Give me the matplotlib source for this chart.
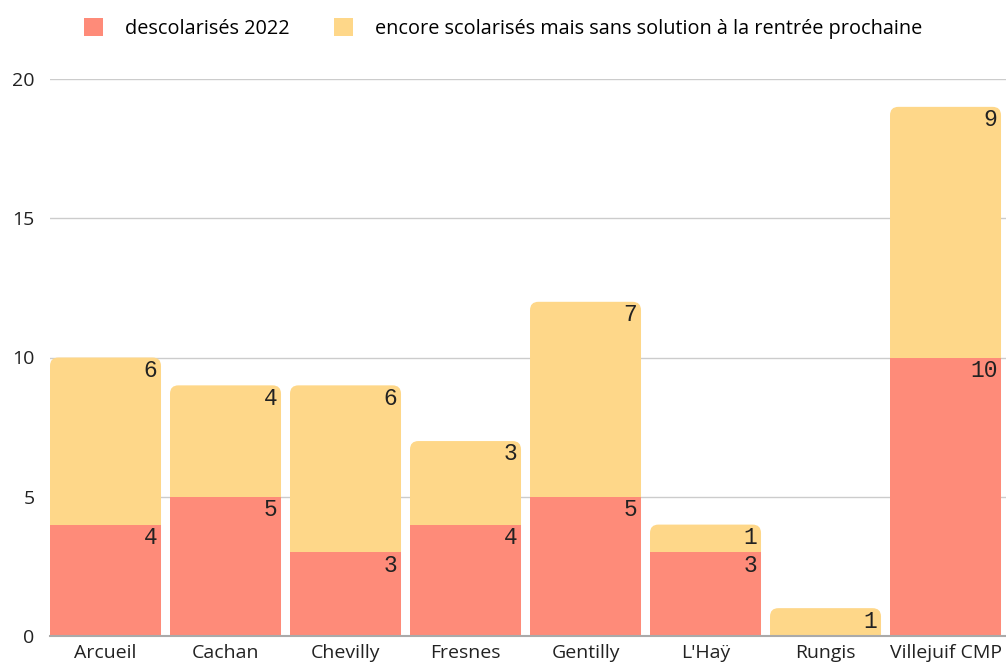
import numpy as np
import matplotlib.pyplot as plt
from matplotlib.patches import FancyBboxPatch, Patch

# data
communes = ["Arcueil", "Cachan", "Chevilly", "Fresnes", "Gentilly", "L'Haÿ", "Rungis", "Villejuif CMP"]
descolarises = [4, 5, 3, 4, 5, 3, 0, 10]
sans_solution = [6, 4, 6, 3, 7, 1, 1, 9]

red = "#FE8B79"
yellow = "#FED789"
font = "Open Sans"
mono = "Liberation Mono"

fig = plt.figure(figsize=(10.06, 6.71), dpi=100)
ax = fig.add_axes([50 / 1006, 35 / 671, 956 / 1006, 557 / 671])

x = np.arange(len(communes))
width = 0.925
totals = np.array(descolarises) + np.array(sans_solution)

# yellow stacks: rounded top, bottom hidden below the axis
ybars = ax.bar(x, totals, width, color=yellow)
for b in ybars:
    b.set_visible(False)
    box = FancyBboxPatch((b.get_x(), -1), b.get_width(), b.get_height() + 1,
                         boxstyle="round,pad=0,rounding_size=0.07", mutation_aspect=4.3,
                         fc=yellow, ec="none", zorder=2)
    ax.add_patch(box)

rbars = ax.bar(x, descolarises, width, color=red, zorder=3)

for i in range(len(communes)):
    right = x[i] + width / 2 - 0.03
    if descolarises[i] > 0:
        ax.annotate(str(descolarises[i]), (right, descolarises[i]), xytext=(0, -1),
                    textcoords="offset points", ha="right", va="top",
                    fontsize=16.5, family=mono, color="#222222", zorder=5)
    ax.annotate(str(sans_solution[i]), (right, totals[i]), xytext=(0, -1),
                textcoords="offset points", ha="right", va="top",
                fontsize=16.5, family=mono, color="#222222", zorder=5)

ax.set_xlim(-0.4625, 7.504)
ax.set_ylim(0, 20)
ax.set_yticks([0, 5, 10, 15, 20])
ax.set_xticks(x)
ax.set_xticklabels(communes, fontsize=14, family=font, color="#222222")
for lbl in ax.get_yticklabels():
    lbl.set_fontsize(14)
    lbl.set_family(font)
    lbl.set_color("#222222")
ax.tick_params(length=0)
ax.tick_params(axis="y", pad=11)
ax.tick_params(axis="x", pad=6)
ax.yaxis.grid(True, color="#CCCCCC", linewidth=1)
ax.set_axisbelow(True)
for s in ["top", "right", "left"]:
    ax.spines[s].set_visible(False)
ax.spines["bottom"].set_color("#AAAAAA")
ax.spines["bottom"].set_linewidth(1.5)
ax.spines["bottom"].set_zorder(4)

handles = [Patch(fc=red, ec="none"), Patch(fc=yellow, ec="none")]
fig.legend(handles, ["descolarisés 2022", "encore scolarisés mais sans solution à la rentrée prochaine"],
           loc="upper center", bbox_to_anchor=(0.5, 1.0), ncol=2, frameon=False,
           prop={"family": font, "size": 14.3}, handlelength=1.0, handleheight=1.0,
           handletextpad=1.1, columnspacing=2.2)

fig.savefig("out.png", dpi=100)
